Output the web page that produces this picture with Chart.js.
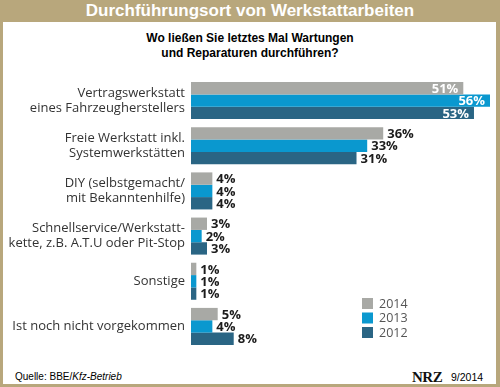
<!DOCTYPE html>
<html>
<head>
<meta charset="utf-8">
<script src="https://cdn.jsdelivr.net/npm/chart.js@4"></script>
<style>
  html, body { margin: 0; padding: 0; }
  body { width: 500px; height: 387px; background: #b8a77c; position: relative; overflow: hidden; font-family: "Liberation Sans", Arial, sans-serif; }
  .title { position: absolute; left: 0; top: 0; width: 500px; height: 22px; line-height: 22px; text-align: center; color: #fff; font-weight: bold; font-size: 17px; }
  .panel { position: absolute; left: 3px; top: 22px; width: 493px; height: 362px; background: #fff; }
  .subtitle { position: absolute; left: 0; top: 31px; width: 500px; text-align: center; font-weight: bold; font-size: 12px; line-height: 15px; color: #000; }
  .source { position: absolute; left: 15px; top: 371px; font-size: 10px; color: #000; }
  .logo { position: absolute; left: 412px; top: 369px; font-family: "Liberation Serif", serif; font-weight: bold; font-size: 15px; letter-spacing: -0.5px; color: #111; }
  .date { position: absolute; left: 451px; top: 371px; font-size: 10.5px; color: #000; }
  #chart { position: absolute; left: 0; top: 0; }
</style>
</head>
<body>
<div class="title">Durchführungsort von Werkstattarbeiten</div>
<div class="panel"></div>
<div class="subtitle">Wo ließen Sie letztes Mal Wartungen<br>und Reparaturen durchführen?</div>
<div class="source">Quelle: BBE/<i>Kfz-Betrieb</i></div>
<div class="logo">NRZ</div>
<div class="date">9/2014</div>
<canvas id="chart" width="500" height="387"></canvas>
<script>
// Kategorien (mehrzeilig)
const categories = [
    ['Vertragswerkstatt', 'eines Fahrzeugherstellers'],
    ['Freie Werkstatt inkl.', 'Systemwerkstätten'],
    ['DIY (selbstgemacht/', 'mit Bekanntenhilfe)'],
    ['Schnellservice/Werkstatt-', 'kette, z.B. A.T.U oder Pit-Stop'],
    'Sonstige',
    'Ist noch nicht vorgekommen'
];
const years = ['2014', '2013', '2012'];
const values2014 = [51, 36, 4, 3, 1, 5];
const values2013 = [56, 33, 4, 2, 1, 4];
const values2012 = [53, 31, 4, 3, 1, 8];
const colors = ['#a8a9a5', '#0a98cf', '#2a6584'];

// Prozentwerte an die Balken schreiben
const valueLabels = {
    id: 'valueLabels',
    afterDatasetsDraw(chart) {
        const ctx = chart.ctx;
        ctx.save();
        ctx.font = 'bold 13px "Open Sans", sans-serif';
        ctx.textBaseline = 'middle';
        chart.data.datasets.forEach((ds, i) => {
            const meta = chart.getDatasetMeta(i);
            meta.data.forEach((bar, j) => {
                const v = ds.data[j];
                if (v > 45) {
                    ctx.fillStyle = '#ffffff';
                    ctx.textAlign = 'right';
                    ctx.fillText(v + '%', bar.x - 5, bar.y + 1);
                } else {
                    ctx.fillStyle = '#1c1c1c';
                    ctx.textAlign = 'left';
                    ctx.fillText(v + '%', bar.x + 4, bar.y + 1);
                }
            });
        });
        ctx.restore();
    }
};

// Legende unten rechts im Diagramm
const boxLegend = {
    id: 'boxLegend',
    afterDraw(chart) {
        const ctx = chart.ctx;
        const area = chart.chartArea;
        const x = area.left + 171;
        const y0 = area.bottom - 46;
        ctx.save();
        ctx.font = '12.5px "Open Sans", sans-serif';
        ctx.textBaseline = 'middle';
        ctx.textAlign = 'left';
        chart.data.datasets.forEach((ds, i) => {
            const y = y0 + i * 14.5;
            ctx.fillStyle = ds.backgroundColor;
            ctx.fillRect(x, y - 5, 11, 11);
            ctx.fillStyle = '#555555';
            ctx.fillText(ds.label, x + 17, y + 1);
        });
        ctx.restore();
    }
};

const ctx = document.getElementById('chart').getContext('2d');
new Chart(ctx, {
    type: 'bar',
    data: {
        labels: categories,
        datasets: [
            { label: years[0], data: values2014, backgroundColor: colors[0] },
            { label: years[1], data: values2013, backgroundColor: colors[1] },
            { label: years[2], data: values2012, backgroundColor: colors[2] }
        ]
    },
    options: {
        indexAxis: 'y',
        responsive: false,
        animation: false,
        categoryPercentage: 0.82,
        barPercentage: 1,
        layout: {
            padding: { top: 78, bottom: 38, left: 0, right: 10 }
        },
        plugins: {
            legend: { display: false },
            tooltip: { enabled: false }
        },
        scales: {
            x: {
                display: false,
                min: 0,
                max: 56
            },
            y: {
                grid: { display: false, drawTicks: false },
                border: { display: false },
                afterFit: (scale) => { scale.width = 191; },
                ticks: {
                    padding: 6,
                    color: '#333333',
                    font: { family: '"Open Sans", sans-serif', size: 13, lineHeight: 1.15 }
                }
            }
        }
    },
    plugins: [valueLabels, boxLegend]
});
</script>
</body>
</html>
